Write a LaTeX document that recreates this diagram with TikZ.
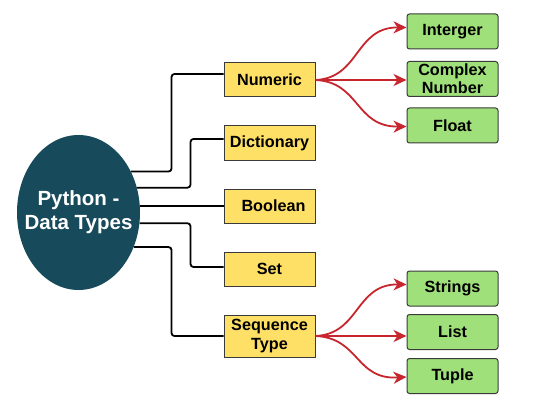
\documentclass[tikz,border=0pt]{standalone}
\usepackage{fontspec}
\setmainfont{Liberation Sans}
\usetikzlibrary{shapes.geometric,arrows.meta,calc}
\definecolor{teal}{HTML}{174A5B}
\definecolor{ybox}{HTML}{FFE066}
\definecolor{gbox}{HTML}{9FE07A}
\definecolor{redl}{HTML}{C8262E}
\definecolor{edge}{HTML}{3A3A3A}
\begin{document}
\begin{tikzpicture}[x=1pt,y=-1pt,
  ybx/.style={draw=edge,line width=1pt,fill=ybox,minimum width=91pt,minimum height=34pt,inner sep=0pt,font=\bfseries\fontsize{16.2}{18.5}\selectfont,align=center},
  gbx/.style={draw=edge,line width=1pt,fill=gbox,rounded corners=2.5pt,minimum width=91pt,minimum height=35pt,inner sep=0pt,font=\bfseries\fontsize{16.2}{18}\selectfont,align=center},
  conn/.style={line width=1.8pt,black,rounded corners=3pt},
  rarr/.style={line width=1.8pt,redl,-{Stealth[length=13pt,width=12pt,inset=4pt]}}]
\useasboundingbox (0,0) rectangle (547,412);
\fill[white] (0,0) rectangle (547,412);
\node[ellipse,fill=teal,minimum width=123pt,minimum height=155pt,inner sep=0pt] (ell) at (78.5,212.5) {};
\node[text=white,font=\bfseries\fontsize{20.5}{24}\selectfont,align=center] (elltxt) at (ell.center) {Python -\\Data Types};
\node[ybx] (num) at (269.5,80) {Numeric};
\node[ybx] (dic) at (269.5,143) {Dictionary};
\node[ybx] (boo) at (269.5,206) {\hspace*{8pt}Boolean};
\node[ybx] (set) at (269.5,269) {Set};
\node[ybx,minimum height=42pt] (seq) at (269.5,336) {Sequence\\Type};
\node[gbx] (int) at (452.5,31.5) {Interger};
\node[gbx] (cpx) at (452.5,79) {Complex\\Number};
\node[gbx] (flt) at (452.5,125.5) {Float};
\node[gbx] (str) at (452.5,288.5) {Strings};
\node[gbx] (lst) at (452.5,332) {List};
\node[gbx] (tup) at (452.5,376) {Tuple};
\draw[conn] (ell.38) -| ($(num.west)+(-52,-6)$) -- ($(num.west)+(0,-6)$);
\draw[conn] (ell.23) -| ($(dic.west)+(-33,-4)$) -- ($(dic.west)+(0,-4)$);
\draw[conn] (ell.east |- boo.west) -- (boo.west);
\draw[conn] (ell.-10) -| ($(set.west)+(-33,-2)$) -- ($(set.west)+(0,-2)$);
\draw[conn] (ell.-32.4) -| ($(seq.west)+(-52,0)$) -- (seq.west);
\draw[rarr] (num.east) .. controls (360,78) and (355,27) .. ($(int.west)+(0,-4)$);
\draw[rarr] (num.east) -- (num.east -| cpx.west);
\draw[rarr] (num.east) .. controls (360,82) and (355,127) .. ($(flt.west)+(0,1)$);
\draw[rarr] (seq.east) .. controls (360,334) and (355,284) .. ($(str.west)+(0,-4)$);
\draw[rarr] (seq.east) -- (seq.east -| lst.west);
\draw[rarr] (seq.east) .. controls (360,338) and (355,380) .. ($(tup.west)+(0,1)$);
\end{tikzpicture}
\end{document}
